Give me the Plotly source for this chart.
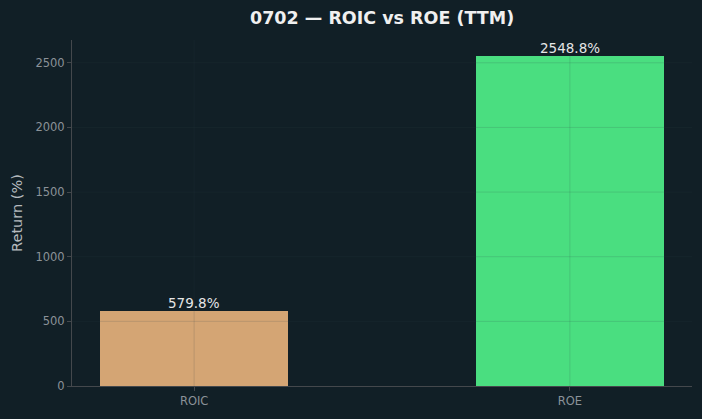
import plotly.graph_objects as go

categories = ["ROIC", "ROE"]
values = [579.8, 2548.8]
labels = ["579.8%", "2548.8%"]
colors = ["#d4a574", "#4ade80"]
y_ticks = [0, 500, 1000, 1500, 2000, 2500]

BG = "#111f26"
GRID = "rgba(50,68,76,0.16)"
SPINE = "#44484c"
TICK = "#8b9298"

fig = go.Figure()
fig.add_trace(go.Bar(
    x=[0, 1], y=values, width=0.5, marker=dict(color=colors, line=dict(width=0)),
    hoverinfo="skip", showlegend=False,
))
for i, (v, t) in enumerate(zip(values, labels)):
    fig.add_annotation(x=i, y=v, text=t, showarrow=False, xref="x", yref="y",
                       yanchor="bottom", yshift=-2,
                       font=dict(family="DejaVu Sans", size=13.5, color="#e6e6e6"))

# gridlines drawn above the bars (as in the reference)
for yt in y_ticks[1:]:
    fig.add_shape(type="line", xref="paper", yref="y", x0=0, x1=1, y0=yt, y1=yt,
                  line=dict(color=GRID, width=1), layer="above")
for i in range(len(categories)):
    fig.add_shape(type="line", xref="x", yref="paper", x0=i, x1=i, y0=0, y1=1,
                  line=dict(color=GRID, width=1), layer="above")

fig.update_layout(
    width=702, height=419,
    paper_bgcolor=BG, plot_bgcolor=BG,
    margin=dict(l=72, r=10, t=40, b=33),
    font=dict(family="DejaVu Sans", color=TICK, size=12),
    title=dict(text="<b>0702 — ROIC vs ROE (TTM)</b>", x=0.5443, xanchor="center",
               y=0.957, yanchor="middle",
               font=dict(family="DejaVu Sans", size=17.5, color="#f0f0f0")),
    bargap=0,
)
fig.update_xaxes(
    range=[-0.325, 1.325], tickvals=[0, 1], ticktext=categories,
    showgrid=False,
    showline=True, linecolor=SPINE, linewidth=1,
    ticks="outside", ticklen=4, tickcolor=SPINE, zeroline=False,
    tickfont=dict(size=11.5, color=TICK), layer="above traces",
)
fig.update_yaxes(
    range=[0, 2676.2], tickvals=y_ticks,
    showgrid=False,
    showline=True, linecolor=SPINE, linewidth=1,
    ticks="outside", ticklen=4, tickcolor=SPINE, zeroline=False,
    tickfont=dict(size=11.5, color=TICK), layer="above traces",
    title=dict(text="Return (%)", standoff=9, font=dict(size=14.5, color="#b5babe")),
)

fig.write_html("out.html")
